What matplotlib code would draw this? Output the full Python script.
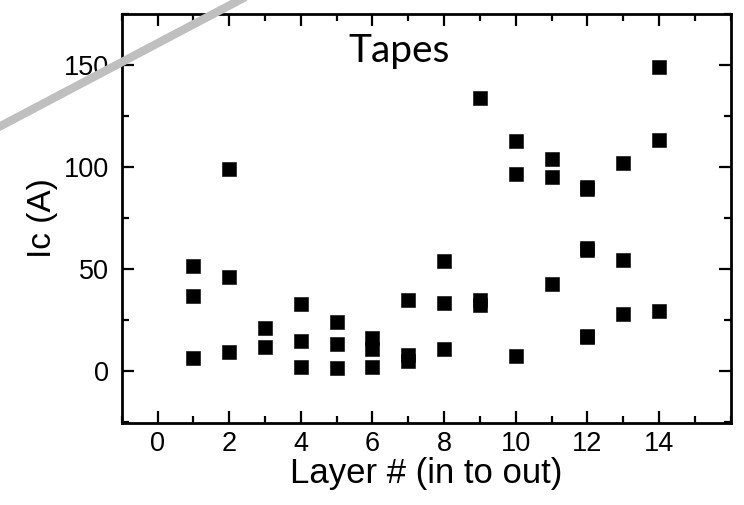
import matplotlib.pyplot as plt
from matplotlib.lines import Line2D
from matplotlib.ticker import MultipleLocator

plt.rcParams['font.family'] = ['Liberation Sans', 'DejaVu Sans']

# Ic of the tapes in each layer
layer = [1, 1, 1,
         2, 2, 2,
         3, 3,
         4, 4, 4,
         5, 5, 5,
         6, 6, 6,
         7, 7, 7,
         8, 8, 8,
         9, 9, 9,
         10, 10, 10,
         11, 11, 11,
         12, 12, 12, 12, 12, 12,
         13, 13, 13,
         14, 14, 14]
ic = [51.3, 36.5, 6.0,
      98.9, 45.9, 9.0,
      20.8, 11.8,
      32.8, 14.8, 2.0,
      23.8, 13.1, 1.3,
      15.9, 10.8, 2.0,
      34.8, 7.7, 4.8,
      53.8, 33.1, 10.7,
      133.6, 34.6, 32.1,
      112.6, 96.7, 7.4,
      103.8, 95.1, 42.6,
      90.0, 89.2, 60.0, 59.2, 17.2, 16.4,
      102.0, 54.4, 27.9,
      148.9, 113.1, 29.5]

xticks = [0, 2, 4, 6, 8, 10, 12, 14]
yticks = [0, 50, 100, 150]

fig = plt.figure(figsize=(7.44, 5.05), dpi=100)
ax = fig.add_axes([0.1636, 0.163, 0.8184, 0.8093])

ax.plot(layer, ic, 's', color='black', ms=10.2, mew=0.4, ls='none')

ax.set_xlim(-1, 16)
ax.set_ylim(-25.5, 175)
ax.set_xticks(xticks)
ax.set_yticks(yticks)
ax.xaxis.set_minor_locator(MultipleLocator(1))
ax.yaxis.set_minor_locator(MultipleLocator(25))
ax.tick_params(which='both', direction='in', top=True, right=True, width=1.6)
ax.tick_params(which='major', length=8.5, labelsize=19.5, pad=9)
ax.tick_params(axis='x', which='major', pad=6)
ax.tick_params(which='minor', length=5)
for s in ax.spines.values():
    s.set_linewidth(2)

ax.set_xlabel('Layer # (in to out)', fontsize=25, labelpad=0)
ax.set_ylabel('Ic (A)', fontsize=24, labelpad=4)

ax.text(6.73, 151.6, 'Tapes', fontsize=28, family=['Lato', 'DejaVu Sans'],
        ha='center', va='baseline')

# grey stroke crossing the top-left corner
fig.add_artist(Line2D([-0.01, 0.335], [0.742, 1.01],
                      transform=fig.transFigure, color='#bfbfbf', lw=6,
                      zorder=10))

fig.savefig('out.png', dpi=100)
